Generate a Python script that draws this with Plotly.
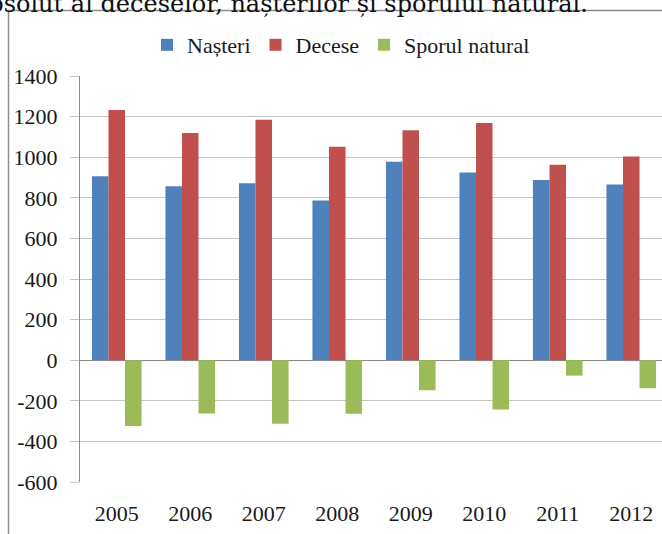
import plotly.graph_objects as go

years = ["2005", "2006", "2007", "2008", "2009", "2010", "2011", "2012"]
nasteri = [906, 857, 872, 787, 978, 925, 888, 865]
decese = [1233, 1119, 1184, 1051, 1133, 1169, 963, 1004]
spor = [-324, -262, -313, -264, -148, -243, -76, -138]
y_ticks = [1400, 1200, 1000, 800, 600, 400, 200, 0, -200, -400, -600]
caption = "absolut al deceselor, nașterilor și sporului natural."

W, H = 662, 534
ML, MR, MT, MB = 80, 0, 76, 52
PW, PH = W - ML - MR, H - MT - MB

def px2x(px):
    return (px - ML) / PW

def px2y(py):
    return (H - MB - py) / PH

serif = "'Liberation Serif', Tinos, 'Times New Roman', serif"
grid = "#c4c4c4"
axc = "#8a8a8a"
txt = "#1a1a1a"

fig = go.Figure()
fig.add_trace(go.Bar(name="Nașteri", x=years, y=nasteri, marker_color="#4F81BD", marker_line_width=0))
fig.add_trace(go.Bar(name="Decese", x=years, y=decese, marker_color="#C0504D", marker_line_width=0))
fig.add_trace(go.Bar(name="Sporul natural", x=years, y=spor, marker_color="#9BBB59", marker_line_width=0))

fig.update_layout(
    width=W, height=H,
    margin=dict(l=ML, r=MR, t=MT, b=MB, autoexpand=False),
    paper_bgcolor="white", plot_bgcolor="white",
    barmode="group", bargap=0.325, bargroupgap=0,
    font=dict(family=serif, size=22, color=txt),
    legend=dict(orientation="h", x=px2x(341), xanchor="center", y=px2y(45), yanchor="middle",
                font=dict(family=serif, size=22, color=txt), itemwidth=30,
                bgcolor="rgba(0,0,0,0)"),
    xaxis=dict(type="category", categoryorder="array", categoryarray=years,
               range=[-0.5, -0.5 + PW / 73.5], showgrid=False, showline=False, ticks="",
               ticklabelstandoff=16, tickfont=dict(family=serif, size=22, color=txt),
               fixedrange=True),
    xaxis2=dict(overlaying="x", anchor="free", position=0.3, matches="x", showgrid=False,
                showline=False, ticks="outside", ticklen=8, tickcolor=axc, tickwidth=1,
                tickmode="array", tickvals=[i + 0.5 for i in range(len(years) - 1)],
                showticklabels=False, zeroline=False),
    yaxis=dict(range=[-600, 1400], tickmode="array", tickvals=y_ticks,
               ticktext=[str(v) for v in y_ticks],
               showgrid=True, gridcolor=grid, gridwidth=1,
               zeroline=True, zerolinecolor=axc, zerolinewidth=1,
               showline=True, linecolor=axc, linewidth=1,
               ticks="outside", ticklen=9, tickcolor=grid, tickwidth=1,
               ticklabelstandoff=8, tickfont=dict(family=serif, size=22, color=txt),
               fixedrange=True),
    shapes=[dict(type="rect", xref="paper", yref="paper",
                 x0=px2x(8.5), x1=px2x(700), y0=px2y(600), y1=px2y(10.5),
                 line=dict(color="#8c8c8c", width=1.5), fillcolor="rgba(0,0,0,0)", layer="below")],
    annotations=[dict(text=caption, xref="paper", yref="paper", x=px2x(590), xanchor="right",
                      y=px2y(20), yanchor="bottom", showarrow=False,
                      font=dict(family="'DejaVu Serif', serif", size=24, color="#111111"))],
)

fig.write_html("out.html", config={"displayModeBar": False})

with open("out.html", encoding="utf-8") as f:
    html = f.read()
html = html.replace("<head>", "<head><style>html,body{margin:0;padding:0;overflow:hidden;}</style>", 1)
with open("out.html", "w", encoding="utf-8") as f:
    f.write(html)
